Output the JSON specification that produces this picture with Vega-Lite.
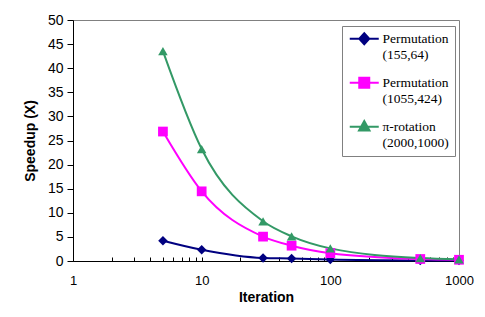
{
  "$schema": "https://vega.github.io/schema/vega-lite/v6.json",
  "width": 386,
  "height": 241,
  "autosize": {"type": "none"},
  "padding": {"left": 73, "top": 20, "right": 26, "bottom": 56},
  "background": "white",
  "config": {
    "view": {"stroke": "#808080", "strokeWidth": 1},
    "axis": {"domainColor": "black", "tickColor": "black", "labelColor": "black", "titleColor": "black", "labelFont": "Liberation Sans", "titleFont": "Liberation Sans", "grid": false}
  },
  "data": {
    "values": [
      {"series": "Permutation (155,64)", "iter": 5, "value": 4.213619},
      {"series": "Permutation (155,64)", "iter": 10, "value": 2.335441},
      {"series": "Permutation (155,64)", "iter": 30, "value": 0.631842},
      {"series": "Permutation (155,64)", "iter": 50, "value": 0.525737},
      {"series": "Permutation (155,64)", "iter": 100, "value": 0.307395},
      {"series": "Permutation (155,64)", "iter": 500, "value": 0.119197},
      {"series": "Permutation (155,64)", "iter": 1000, "value": 0.097679},
      {"series": "Permutation (1055,424)", "iter": 5, "value": 26.85948},
      {"series": "Permutation (1055,424)", "iter": 10, "value": 14.45121},
      {"series": "Permutation (1055,424)", "iter": 30, "value": 5.05666},
      {"series": "Permutation (1055,424)", "iter": 50, "value": 3.176533},
      {"series": "Permutation (1055,424)", "iter": 100, "value": 1.629977},
      {"series": "Permutation (1055,424)", "iter": 500, "value": 0.416543},
      {"series": "Permutation (1055,424)", "iter": 1000, "value": 0.254038},
      {"series": "π-rotation (2000,1000)", "iter": 5, "value": 43.5294},
      {"series": "π-rotation (2000,1000)", "iter": 10, "value": 23.22389},
      {"series": "π-rotation (2000,1000)", "iter": 30, "value": 8.239816},
      {"series": "π-rotation (2000,1000)", "iter": 50, "value": 5.117866},
      {"series": "π-rotation (2000,1000)", "iter": 100, "value": 2.61919},
      {"series": "π-rotation (2000,1000)", "iter": 500, "value": 0.617815},
      {"series": "π-rotation (2000,1000)", "iter": 1000, "value": 0.358461}
    ]
  },
  "encoding": {
    "x": {
      "field": "iter", "type": "quantitative",
      "scale": {"type": "log", "domain": [1, 1000], "nice": false},
      "axis": {
        "title": "Iteration", "titleFontSize": 14, "titleFontWeight": "bold", "titlePadding": 3,
        "values": [1,2,3,4,5,6,7,8,9,10,20,30,40,50,60,70,80,90,100,200,300,400,500,600,700,800,900,1000],
        "labelExpr": "(datum.value == 1 || datum.value == 10 || datum.value == 100 || datum.value == 1000) ? datum.label : ''",
        "format": "d",
        "labelFontSize": 13, "tickSize": -4, "labelPadding": 17, "labelFlush": false, "labelOverlap": false
      }
    },
    "y": {
      "field": "value", "type": "quantitative",
      "scale": {"domain": [0, 50], "nice": false},
      "axis": {
        "title": "Speedup (X)", "titleFontSize": 14, "titleFontWeight": "bold", "titlePadding": 10,
        "values": [0,5,10,15,20,25,30,35,40,45,50],
        "labelFontSize": 14, "tickSize": 6, "labelPadding": 4
      }
    }
  },
  "layer": [
    {
      "mark": {"type": "line", "interpolate": "monotone", "strokeWidth": 2},
      "encoding": {
        "color": {
          "field": "series", "type": "nominal",
          "scale": {"domain": ["Permutation (155,64)", "Permutation (1055,424)", "π-rotation (2000,1000)"], "range": ["#000080", "#FF00FF", "#339966"]},
          "legend": {
            "orient": "none", "legendX": 269, "legendY": 6, "title": null,
            "strokeColor": "#808080", "fillColor": "white", "padding": 6,
            "labelFont": "Liberation Serif", "labelFontSize": 13.5, "labelColor": "black",
            "labelExpr": "split(datum.label, ' ')", "labelLimit": 200, "labelOffset": 21,
            "symbolType": "M-1,0H4.8", "symbolSize": 100, "symbolStrokeWidth": 2, "rowPadding": 11,
            "encode": {
              "symbols": {"update": {
                "shape": {"signal": "datum.value == 'Permutation (155,64)' ? 'M-1,0H4.8M1.9,-1.1L2.9,0L1.9,1.1L0.9,0Z' : datum.value == 'Permutation (1055,424)' ? 'M-1,0H4.8M0.9,-1H2.9V1H0.9Z' : 'M-1,0H4.8M1.9,-1.15L2.95,0.75H0.85Z'"},
                "fill": {"scale": "color", "field": "value"},
                "stroke": {"scale": "color", "field": "value"},
                "fillOpacity": {"value": 1},
                "strokeWidth": {"value": 2}
              }},
              "labels": {"update": {"lineHeight": {"value": 16}}}
            }
          }
        }
      }
    },
    {
      "transform": [{"filter": "datum.series == 'Permutation (155,64)'"}],
      "mark": {"type": "point", "filled": true, "opacity": 1, "size": 90, "shape": "diamond", "color": "#000080"}
    },
    {
      "transform": [{"filter": "datum.series == 'Permutation (1055,424)'"}],
      "mark": {"type": "point", "filled": true, "opacity": 1, "size": 95, "shape": "square", "color": "#FF00FF"}
    },
    {
      "transform": [{"filter": "datum.series == 'π-rotation (2000,1000)'"}],
      "mark": {"type": "point", "filled": true, "opacity": 1, "size": 90, "shape": "triangle-up", "color": "#339966"}
    }
  ]
}
